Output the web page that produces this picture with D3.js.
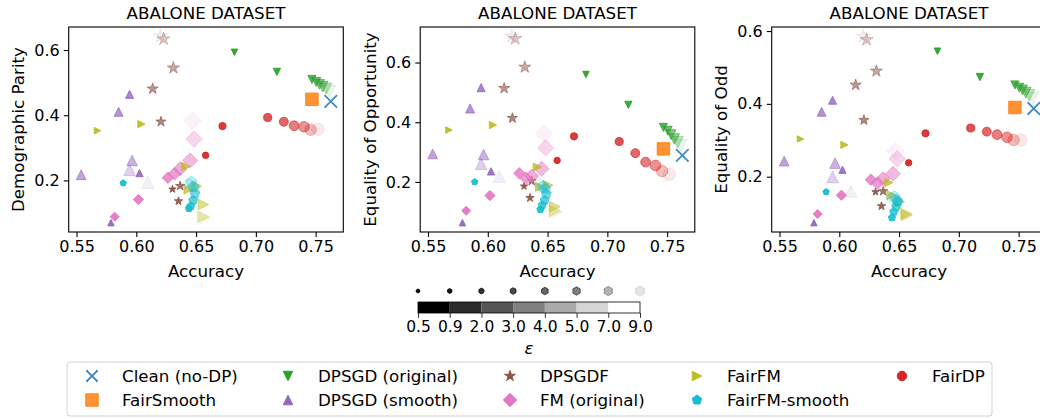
<!DOCTYPE html>
<html>
<head>
<meta charset="utf-8">
<script src="https://cdn.jsdelivr.net/npm/d3@7"></script>
<style>
  body { margin: 0; background: #fff; }
  svg { display: block; font-family: 'DejaVu Sans', sans-serif; }
</style>
</head>
<body>
<svg id="chart" width="1040" height="419"></svg>
<script>
// methods in legend order
const methods = ['Clean (no-DP)', 'FairSmooth', 'DPSGD (original)', 'DPSGD (smooth)', 'DPSGDF',
  'FM (original)', 'FairFM', 'FairFM-smooth', 'FairDP']
const colors = ['#1f77b4', '#ff7f0e', '#2ca02c', '#9467bd', '#8c564b', '#e377c2', '#bcbd22', '#17becf', '#d62728']
const shapes = ['x', 's', 'v', '^', '*', 'D', '>', 'p', 'o']
const epsilons = [0.5, 0.9, 2.0, 3.0, 4.0, 5.0, 7.0, 9.0]

// one row per method, one value per epsilon (Clean and FairSmooth have a single point)
const accuracy = [
  [0.7627],
  [0.7469],
  [0.6821, 0.7176, 0.7469, 0.7505, 0.7533, 0.7560, 0.7588, 0.7616],
  [0.5788, 0.6027, 0.5944, 0.5852, 0.5539, 0.5965, 0.5944, 0.6096],
  [0.6303, 0.6353, 0.6367, 0.6206, 0.6137, 0.6310, 0.6229, 0.6201],
  [0.5819, 0.6018, 0.6264, 0.6320, 0.6367, 0.6450, 0.6484, 0.6470],
  [0.5675, 0.6043, 0.6414, 0.6436, 0.6505, 0.6561, 0.6561, 0.6575],
  [0.5890, 0.6440, 0.6455, 0.6475, 0.6490, 0.6480, 0.6460, 0.6440],
  [0.6580, 0.6721, 0.7099, 0.7234, 0.7320, 0.7403, 0.7458, 0.7519]
]
const demographicParity = [
  [0.4426],
  [0.4487],
  [0.593, 0.533, 0.5097, 0.5017, 0.4946, 0.4875, 0.4814, 0.474],
  [0.0703, 0.2225, 0.464, 0.4103, 0.2174, 0.2612, 0.2326, 0.1942],
  [0.173, 0.1364, 0.183, 0.380, 0.481, 0.545, 0.634, 0.642],
  [0.0886, 0.1413, 0.2082, 0.2204, 0.2357, 0.2612, 0.327, 0.383],
  [0.3525, 0.3726, 0.243, 0.1717, 0.182, 0.126, 0.0886, 0.0836],
  [0.192, 0.114, 0.121, 0.139, 0.160, 0.180, 0.195, 0.188],
  [0.277, 0.3666, 0.393, 0.380, 0.3677, 0.3647, 0.3555, 0.357]
]
const equalityOfOpportunity = [
  [0.2887],
  [0.3107],
  [0.560, 0.4583, 0.3828, 0.3718, 0.3585, 0.344, 0.333, 0.322],
  [0.0636, 0.2355, 0.5159, 0.446, 0.294, 0.292, 0.2608, 0.2189],
  [0.1856, 0.1467, 0.2033, 0.4138, 0.5135, 0.5847, 0.680, 0.6878],
  [0.1035, 0.1544, 0.229, 0.2125, 0.220, 0.2442, 0.314, 0.3606],
  [0.3739, 0.3905, 0.2498, 0.1833, 0.189, 0.1168, 0.1025, 0.0995],
  [0.200, 0.108, 0.1225, 0.139, 0.160, 0.178, 0.185, 0.19],
  [0.2721, 0.3529, 0.3353, 0.2964, 0.2664, 0.2554, 0.2365, 0.2255]
]
const equalityOfOdd = [
  [0.3873],
  [0.390],
  [0.5446, 0.4737, 0.452, 0.4446, 0.4382, 0.4309, 0.4236, 0.4154],
  [0.0737, 0.219, 0.410, 0.3782, 0.2428, 0.2373, 0.1991, 0.160],
  [0.1582, 0.1192, 0.160, 0.3554, 0.4519, 0.490, 0.5764, 0.5855],
  [0.0974, 0.1492, 0.1918, 0.1828, 0.1945, 0.2081, 0.249, 0.270],
  [0.3036, 0.2873, 0.1836, 0.1492, 0.131, 0.0947, 0.099, 0.095],
  [0.1582, 0.0873, 0.1037, 0.1173, 0.131, 0.1355, 0.145, 0.14],
  [0.2382, 0.3191, 0.3336, 0.3237, 0.3155, 0.3082, 0.3009, 0.3009]
]
const metrics = [demographicParity, equalityOfOpportunity, equalityOfOdd]
const metricLabels = ['Demographic Parity', 'Equality of Opportunity', 'Equality of Odd']
const panelTitle = 'ABALONE DATASET'
const xTicks = [0.55, 0.60, 0.65, 0.70, 0.75]
const yTicks = [0.2, 0.4, 0.6]

const svg = d3.select('#chart')
const W = 274.6
const plotTop = 27
const plotBottom = 232
const tickLen = 4.9

// marker outlines shaped like matplotlib's, ms = marker size in px
const polygon = (n, r, inner) => {
  const pts = []
  const k = inner ? n * 2 : n
  for (let i = 0; i < k; i++) {
    const a = -Math.PI / 2 + i * Math.PI * 2 / k
    const rr = inner && i % 2 ? r * inner : r
    pts.push([rr * Math.cos(a), rr * Math.sin(a)])
  }
  return 'M' + pts.map(p => p.map(v => v.toFixed(2)).join(',')).join('L') + 'Z'
}
const markerPath = function (shape, ms) {
  const r = ms / 2
  switch (shape) {
    case 'o': return `M${r},0A${r},${r},0,1,1,${-r},0A${r},${r},0,1,1,${r},0Z`
    case 's': return `M${-r},${-r}H${r}V${r}H${-r}Z`
    case 'v': return `M0,${r}L${-r},${-r}L${r},${-r}Z`
    case '^': return `M0,${-r}L${-r},${r}L${r},${r}Z`
    case '>': return `M${r},0L${-r},${-r}L${-r},${r}Z`
    case 'D': { const d = ms * Math.SQRT1_2; return `M0,${-d}L${d},0L0,${d}L${-d},0Z` }
    case '*': return polygon(5, r * 1.2, 0.381966)
    case 'p': return polygon(5, r * 1.05)
    case 'h': return polygon(6, r)
    case 'x': return `M${-r},${-r}L${r},${r}M${-r},${r}L${r},${-r}`
  }
}
const sizeOf = i => 6.4 + i * 0.85
const alphaOf = i => 1 - epsilons[i] / 10

const drawMarker = function (g, shape, color, ms, alpha, x, y) {
  const p = g.append('path')
    .attr('d', markerPath(shape, ms))
    .attr('transform', `translate(${x},${y})`)
  if (shape === 'x') {
    p.attr('fill', 'none').attr('stroke', color).attr('stroke-width', 1.8).attr('stroke-opacity', alpha)
  } else {
    p.attr('fill', color).attr('fill-opacity', alpha)
      .attr('stroke', color).attr('stroke-opacity', alpha).attr('stroke-width', 1)
  }
}

// matplotlib-like 5% margins
const padded = function (vals) {
  const [lo, hi] = d3.extent(vals)
  const m = (hi - lo) * 0.05
  return [lo - m, hi + m]
}
const x0 = d3.scaleLinear().domain(padded(accuracy.flat()))

metrics.forEach((metric, p) => {
  const left = 68.7 + p * 351.5
  const x = x0.copy().range([left, left + W])
  const y = d3.scaleLinear().domain(padded(metric.flat())).range([plotBottom, plotTop])
  const g = svg.append('g')

  const gx = g.append('g')
    .attr('transform', `translate(0,${plotBottom})`)
    .call(d3.axisBottom(x).tickValues(xTicks).tickFormat(d3.format('.2f')).tickSizeOuter(0).tickSize(tickLen).tickPadding(4))
  const gy = g.append('g')
    .attr('transform', `translate(${left},0)`)
    .call(d3.axisLeft(y).tickValues(yTicks).tickFormat(d3.format('.1f')).tickSizeOuter(0).tickSize(tickLen).tickPadding(4))
  for (const a of [gx, gy]) {
    a.select('.domain').remove()
    a.selectAll('text').attr('font-size', 16).attr('fill', '#000').attr('font-family', 'DejaVu Sans')
    a.selectAll('line').attr('stroke', '#000').attr('stroke-width', 1.1)
  }

  const pg = g.append('g')
  metric.forEach((vals, m) => {
    vals.forEach((v, i) => {
      const single = vals.length === 1
      drawMarker(pg, shapes[m], colors[m], single ? 12.5 : sizeOf(i), single ? 0.85 : alphaOf(i),
        x(accuracy[m][i]), y(v))
    })
  })

  g.append('rect')
    .attr('x', left).attr('y', plotTop).attr('width', W).attr('height', plotBottom - plotTop)
    .attr('fill', 'none').attr('stroke', '#000').attr('stroke-width', 1.1)

  g.append('text')
    .attr('x', left + W / 2).attr('y', 18.7)
    .attr('text-anchor', 'middle').attr('font-size', 16.7)
    .text(panelTitle)
  g.append('text')
    .attr('x', left + W / 2).attr('y', 277)
    .attr('text-anchor', 'middle').attr('font-size', 16.7)
    .text('Accuracy')
  g.append('text')
    .attr('transform', `translate(${left - 44.5},${(plotTop + plotBottom) / 2}) rotate(-90)`)
    .attr('text-anchor', 'middle').attr('font-size', 16.7)
    .text(metricLabels[p])
})

// epsilon colour bar with marker-size key
const cb = svg.append('g')
const cx = d3.scaleLinear().domain([0, epsilons.length - 1]).range([418, 640])
const segs = d3.range(epsilons.length - 1)
cb.selectAll('rect.seg')
  .data(segs)
  .join('rect')
  .attr('class', 'seg')
  .attr('x', i => cx(i)).attr('width', i => cx(i + 1) - cx(i))
  .attr('y', 302).attr('height', 11)
  .attr('fill', i => d3.rgb(255 * i / 6, 255 * i / 6, 255 * i / 6))
cb.append('rect')
  .attr('x', cx(0)).attr('y', 302).attr('width', cx(7) - cx(0)).attr('height', 11)
  .attr('fill', 'none').attr('stroke', '#000').attr('stroke-width', 0.8)
cb.append('g')
  .attr('transform', 'translate(0,313)')
  .call(d3.axisBottom(cx).tickValues(d3.range(epsilons.length)).tickFormat(i => epsilons[i].toFixed(1)).tickSize(4.9).tickPadding(3.5).tickSizeOuter(0))
  .call(a => a.select('.domain').remove())
  .call(a => a.selectAll('text').attr('font-size', 15.5).attr('fill', '#000').attr('font-family', 'DejaVu Sans'))
  .call(a => a.selectAll('line').attr('stroke', '#000').attr('stroke-width', 0.8))
epsilons.forEach((e, i) => drawMarker(cb, 'h', '#000', 4 + i * 0.9, alphaOf(i), cx(i), 291))
cb.append('text')
  .attr('x', (cx(0) + cx(7)) / 2).attr('y', 354)
  .attr('text-anchor', 'middle').attr('font-size', 16.7).attr('font-style', 'italic')
  .text('ε')

// legend
const lg = svg.append('g')
lg.append('rect')
  .attr('x', 67).attr('y', 362).attr('width', 925).attr('height', 54)
  .attr('rx', 3).attr('fill', '#fff').attr('stroke', '#d0d0d0').attr('stroke-width', 1)
const colMarkerX = [92, 288, 510, 697, 902]
const rowY = [376, 400]
methods.forEach((name, m) => {
  const col = Math.floor(m / 2)
  const row = m % 2
  const ms = shapes[m] === 'x' ? 11.5 : shapes[m] === 's' ? 12.5 : 9.5
  drawMarker(lg, shapes[m], colors[m], ms, m < 2 ? 0.85 : 1, colMarkerX[col], rowY[row])
  lg.append('text')
    .attr('x', colMarkerX[col] + 30).attr('y', rowY[row])
    .attr('dy', '0.36em').attr('font-size', 16.7)
    .text(name)
})
</script>
</body>
</html>
